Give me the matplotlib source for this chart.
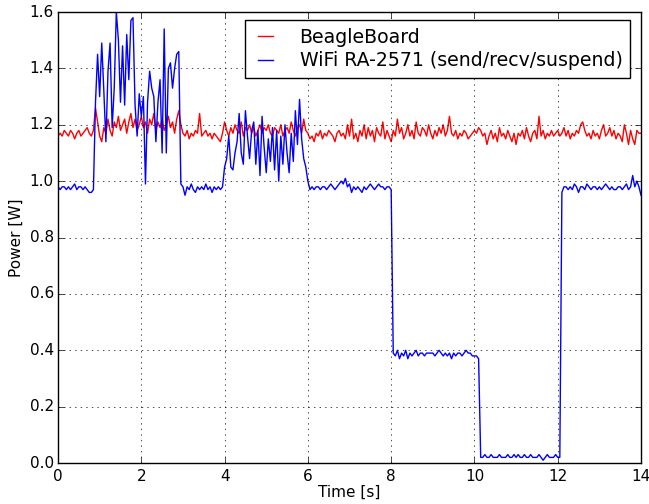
import numpy as np
import matplotlib
matplotlib.use("Agg")
import matplotlib.pyplot as plt

# samples every 0.05 s
t = np.linspace(0, 14, 281)

beagle = [
    1.16, 1.17, 1.16, 1.18, 1.17, 1.16, 1.18, 1.17, 1.15, 1.17, 1.18, 1.16, 1.17, 1.18, 1.19, 1.17, 1.16, 1.18, 1.26, 1.21,
    1.16, 1.14, 1.19, 1.17, 1.22, 1.18, 1.16, 1.21, 1.19, 1.23, 1.18, 1.20, 1.22, 1.17, 1.21, 1.24, 1.19, 1.22, 1.18, 1.20,
    1.23, 1.19, 1.21, 1.17, 1.22, 1.20, 1.24, 1.18, 1.21, 1.19, 1.22, 1.18, 1.20, 1.23, 1.19, 1.21, 1.17, 1.22, 1.25, 1.20,
    1.17, 1.16, 1.18, 1.15, 1.17, 1.16, 1.18, 1.17, 1.24, 1.16, 1.17, 1.18, 1.16, 1.17, 1.15, 1.17, 1.16, 1.15, 1.14, 1.17,
    1.21, 1.18, 1.16, 1.19, 1.17, 1.20, 1.18, 1.17, 1.21, 1.16, 1.19, 1.18, 1.20, 1.17, 1.19, 1.16, 1.18, 1.20, 1.17, 1.19,
    1.18, 1.20, 1.17, 1.16, 1.19, 1.18, 1.17, 1.20, 1.16, 1.18, 1.19, 1.17, 1.21, 1.18, 1.16, 1.19, 1.20, 1.17, 1.22, 1.18,
    1.17, 1.15, 1.16, 1.14, 1.17, 1.16, 1.18, 1.15, 1.17, 1.16, 1.18, 1.17, 1.16, 1.14, 1.17, 1.18, 1.16, 1.17, 1.15, 1.20,
    1.16, 1.22, 1.15, 1.17, 1.14, 1.18, 1.16, 1.20, 1.15, 1.19, 1.16, 1.18, 1.14, 1.19, 1.17, 1.16, 1.21, 1.15, 1.18, 1.16,
    1.14, 1.18, 1.16, 1.22, 1.17, 1.19, 1.15, 1.17, 1.20, 1.16, 1.18, 1.15, 1.21, 1.17, 1.16, 1.19, 1.18, 1.16, 1.20, 1.17,
    1.15, 1.18, 1.16, 1.19, 1.17, 1.20, 1.16, 1.18, 1.23, 1.17, 1.16, 1.18, 1.15, 1.17, 1.16, 1.18, 1.17, 1.15, 1.16, 1.17,
    1.18, 1.17, 1.19, 1.18, 1.16, 1.17, 1.13, 1.16, 1.18, 1.15, 1.17, 1.14, 1.19, 1.16, 1.17, 1.15, 1.18, 1.16, 1.14, 1.17,
    1.13, 1.17, 1.16, 1.18, 1.15, 1.19, 1.16, 1.14, 1.17, 1.18, 1.15, 1.23, 1.16, 1.18, 1.15, 1.17, 1.16, 1.18, 1.16, 1.17,
    1.18, 1.16, 1.17, 1.19, 1.16, 1.18, 1.15, 1.17, 1.16, 1.18, 1.17, 1.20, 1.21, 1.18, 1.16, 1.17, 1.15, 1.18, 1.16, 1.17,
    1.15, 1.18, 1.20, 1.16, 1.17, 1.19, 1.16, 1.18, 1.15, 1.17, 1.16, 1.14, 1.20, 1.17, 1.13, 1.18, 1.15, 1.13, 1.18, 1.17,
    1.17,
]

wifi = [
    0.98, 0.97, 0.98, 0.98, 0.97, 0.98, 0.97, 0.98, 0.99, 0.97, 0.98, 0.98, 0.97, 0.98, 0.97, 0.96, 0.96, 0.97, 1.28, 1.45,
    1.30, 1.49, 1.32, 1.14, 1.39, 1.49, 1.19, 1.33, 1.60, 1.50, 1.28, 1.48, 1.27, 1.52, 1.36, 1.57, 1.58, 1.27, 1.16, 1.31,
    1.23, 1.30, 0.99, 1.28, 1.39, 1.33, 1.30, 1.14, 1.28, 1.36, 1.10, 1.54, 1.10, 1.40, 1.42, 1.33, 1.40, 1.45, 1.46, 0.99,
    0.98, 0.95, 0.98, 0.97, 0.99, 0.97, 0.96, 0.98, 0.97, 0.98, 0.97, 0.99, 0.97, 0.98, 0.96, 0.98, 0.97, 0.98, 0.97, 0.98,
    1.05, 1.08, 1.16, 1.05, 1.04, 1.10, 1.14, 1.24, 1.10, 1.06, 1.25, 1.16, 1.08, 1.18, 1.21, 1.06, 1.18, 1.02, 1.23, 1.12,
    1.03, 1.15, 1.07, 1.19, 1.04, 1.18, 1.00, 1.16, 1.06, 1.20, 1.10, 1.03, 1.17, 1.07, 1.25, 1.13, 1.29, 1.15, 1.08, 1.05,
    1.00, 0.97, 0.98, 0.97, 0.98, 0.98, 0.97, 0.98, 0.98, 0.97, 0.98, 0.99, 0.98, 0.97, 0.98, 0.99, 1.00, 0.99, 1.01, 0.98,
    0.99, 0.96, 0.98, 0.97, 0.98, 0.97, 0.96, 0.98, 0.97, 0.98, 0.99, 0.98, 0.97, 0.98, 0.99, 0.98, 0.98, 0.97, 0.98, 0.98,
    0.97, 0.39, 0.38, 0.40, 0.37, 0.39, 0.38, 0.40, 0.37, 0.39, 0.38, 0.39, 0.40, 0.38, 0.39, 0.39, 0.38, 0.39, 0.39, 0.39,
    0.39, 0.38, 0.39, 0.40, 0.39, 0.38, 0.39, 0.38, 0.39, 0.37, 0.39, 0.38, 0.39, 0.39, 0.38, 0.39, 0.40, 0.39, 0.39, 0.38,
    0.38, 0.38, 0.37, 0.02, 0.02, 0.03, 0.02, 0.02, 0.03, 0.02, 0.02, 0.02, 0.03, 0.02, 0.02, 0.02, 0.03, 0.02, 0.02, 0.03,
    0.02, 0.03, 0.02, 0.02, 0.03, 0.02, 0.02, 0.03, 0.02, 0.02, 0.02, 0.03, 0.02, 0.01, 0.02, 0.03, 0.02, 0.02, 0.02, 0.03,
    0.02, 0.02, 0.96, 0.98, 0.98, 0.97, 0.98, 0.97, 0.99, 0.98, 0.96, 0.98, 0.98, 0.97, 0.99, 0.98, 0.97, 0.98, 0.98, 0.97,
    0.98, 0.97, 0.98, 0.99, 0.98, 0.97, 0.98, 0.97, 0.97, 0.98, 0.98, 0.97, 0.98, 0.99, 0.97, 0.98, 1.02, 0.98, 1.00, 0.98,
    0.95,
]

plt.style.use('classic')
fig = plt.figure(figsize=(6.49, 5.04), dpi=100, facecolor='white')
ax = fig.add_axes([0.0894, 0.0813, 0.8983, 0.8948])

ax.plot(t, beagle, color='red', lw=1.0, label='BeagleBoard')
ax.plot(t, wifi, color='blue', lw=1.0, label='WiFi RA-2571 (send/recv/suspend)')

ax.set_xlim(0, 14)
ax.set_ylim(0, 1.6)
ax.set_xlabel('Time [s]', fontsize=11, labelpad=1)
ax.set_ylabel('Power [W]', fontsize=11, labelpad=4)
ax.tick_params(labelsize=11)
ax.tick_params(axis='x', pad=4)
ax.tick_params(axis='y', pad=3)
ax.grid(True)
ax.legend(loc='upper right', bbox_to_anchor=(0.981, 0.982), borderaxespad=0,
          fontsize=13.6, handlelength=1.4, handletextpad=1.1, labelspacing=0.25,
          borderpad=0.4)

fig.savefig('out.png', dpi=100, facecolor='white')
